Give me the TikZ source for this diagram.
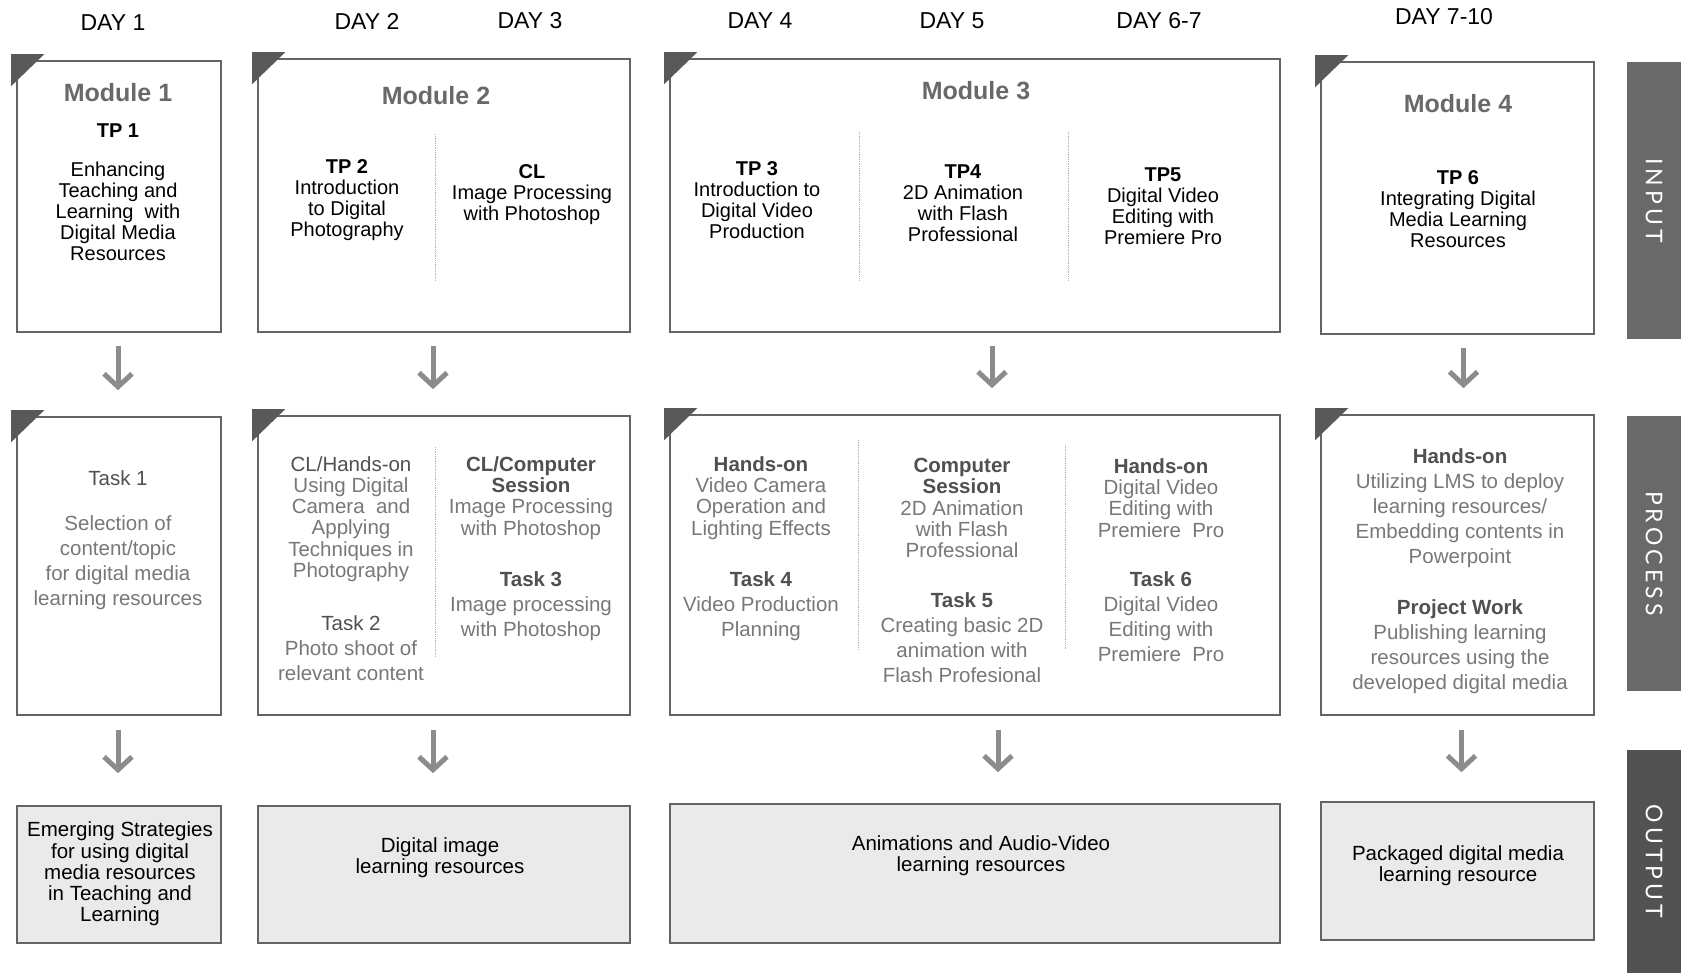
\documentclass[tikz,border=0pt]{standalone}
\usepackage{fontspec}
\setmainfont{Liberation Sans}
\newfontfamily\barrafont[LetterSpace=18]{Lato}
\usetikzlibrary{arrows.meta, positioning}
\definecolor{grisBorde}{RGB}{100,100,100}
\definecolor{grisOscuro}{RGB}{80,80,80}
\definecolor{grisClaro}{RGB}{120,120,120}
\definecolor{grisTitulo}{RGB}{105,105,105}
\definecolor{grisBarra}{RGB}{105,105,105}
\definecolor{grisSalida}{RGB}{234,234,234}
\newcommand{\encab}[1]{\textcolor{grisOscuro}{\textbf{#1}}}

\begin{document}
\begin{tikzpicture}[x=1pt, y=-1pt,
        caja/.style={rectangle, draw=grisBorde, line width=1.6pt, fill=white, inner sep=0pt},
        salida/.style={caja, fill=grisSalida},
        dia/.style={font=\fontsize{23}{26}\selectfont},
        titulo/.style={font=\fontsize{25}{28}\selectfont\bfseries, text=grisTitulo},
        entrada/.style={align=center, inner sep=0pt, font=\fontsize{20}{21}\selectfont},
        proc/.style={align=center, inner sep=0pt, text=grisClaro, font=\fontsize{20.5}{21.3}\selectfont},
        tarea/.style={proc, font=\fontsize{20.5}{25}\selectfont},
        res/.style={align=center, inner sep=0pt, font=\fontsize{20.5}{21.3}\selectfont},
        barra/.style={fill=grisBarra, rotate=-90, minimum height=54, inner sep=0pt, text=white, font=\barrafont\fontsize{23}{26}\selectfont},
        flecha/.style={draw=black!45, line width=5pt, -{Straight Barb[length=13pt, width=28pt]}},
        divisor/.style={draw=black!30, densely dotted, line width=0.8pt},
        esquina/.style={fill=black!65}]
    \useasboundingbox (0,0) rectangle (1681,973);

    % dias
    \node[dia] (d1) at (113,23) {DAY 1};
    \node[dia] (d2) at (367,21) {DAY 2};
    \node[dia] (d3) at (530,21) {DAY 3};
    \node[dia] (d4) at (760,21) {DAY 4};
    \node[dia] (d5) at (952,21) {DAY 5};
    \node[dia] (d67) at (1159,21) {DAY 6-7};
    \node[dia] (d710) at (1444,17) {DAY 7-10};

    % cajas
    \node[caja, minimum width=204, minimum height=271] (m1) at (119,196.5) {};
    \node[caja, minimum width=372, minimum height=273] (m2) at (444,195.5) {};
    \node[caja, minimum width=610, minimum height=273] (m3) at (975,195.5) {};
    \node[caja, minimum width=273, minimum height=272] (m4) at (1457.5,198) {};
    \node[caja, minimum width=204, minimum height=298] (p1) at (119,566) {};
    \node[caja, minimum width=372, minimum height=299] (p2) at (444,565.5) {};
    \node[caja, minimum width=610, minimum height=300] (p3) at (975,565) {};
    \node[caja, minimum width=273, minimum height=300] (p4) at (1457.5,565) {};
    \node[salida, minimum width=204, minimum height=137] (s1) at (119,874.5) {};
    \node[salida, minimum width=372, minimum height=137] (s2) at (444,874.5) {};
    \node[salida, minimum width=610, minimum height=139] (s3) at (975,873.5) {};
    \node[salida, minimum width=273, minimum height=138] (s4) at (1457.5,871) {};

    \fill[esquina] ([shift={(-5,-6)}]m1.north west) -- ++(33,0) -- ++(-33,32) -- cycle;
    \fill[esquina] ([shift={(-5,-6)}]m2.north west) -- ++(33,0) -- ++(-33,32) -- cycle;
    \fill[esquina] ([shift={(-5,-6)}]m3.north west) -- ++(33,0) -- ++(-33,32) -- cycle;
    \fill[esquina] ([shift={(-5,-6)}]m4.north west) -- ++(33,0) -- ++(-33,32) -- cycle;
    \fill[esquina] ([shift={(-5,-6)}]p1.north west) -- ++(33,0) -- ++(-33,32) -- cycle;
    \fill[esquina] ([shift={(-5,-6)}]p2.north west) -- ++(33,0) -- ++(-33,32) -- cycle;
    \fill[esquina] ([shift={(-5,-6)}]p3.north west) -- ++(33,0) -- ++(-33,32) -- cycle;
    \fill[esquina] ([shift={(-5,-6)}]p4.north west) -- ++(33,0) -- ++(-33,32) -- cycle;

    \draw[divisor] (435,134) -- (435,281);
    \draw[divisor] (859,132) -- (859,281);
    \draw[divisor] (1068,132) -- (1068,281);
    \draw[divisor] (435,447) -- (435,656);
    \draw[divisor] (858,440) -- (858,649);
    \draw[divisor] (1065,445) -- (1065,649);

    % entrada
    \node[titulo] (t1) at (118,93) {Module 1};
    \node[entrada, font=\fontsize{20}{21}\selectfont\bfseries] (tp1) at (118,131) {TP 1};
    \node[entrada] (e1) at (118,211) {Enhancing\\Teaching and\\Learning\ \ with\\Digital Media\\Resources};
    \node[titulo] (t2) at (436,96) {Module 2};
    \node[entrada] (e2) at (347,200) {\textbf{TP 2}\\Introduction\\to Digital\\Photography};
    \node[entrada] (e3) at (532,195) {\textbf{CL}\\Image Processing\\with Photoshop};
    \node[titulo] (t3) at (976,91) {Module 3};
    \node[entrada] (e4) at (757,200) {\textbf{TP 3}\\Introduction to\\Digital Video\\Production};
    \node[entrada] (e5) at (963,203) {\textbf{TP4}\\2D Animation\\with Flash\\Professional};
    \node[entrada] (e6) at (1163,206) {\textbf{TP5}\\Digital Video\\Editing with\\Premiere Pro};
    \node[titulo] (t4) at (1458,104) {Module 4};
    \node[entrada] (e7) at (1458,209) {\textbf{TP 6}\\Integrating Digital\\Media Learning\\Resources};

    % proceso
    \node[proc, text=grisOscuro] (q1) at (118,478) {Task 1};
    \node[tarea] (q1b) at (118,563) {Selection of\\content/topic\\for digital media\\learning resources};
    \node[proc] (q2) at (351,519) {\textcolor{grisOscuro}{CL/Hands-on}\\Using Digital\\Camera\ \ and\\Applying\\Techniques in\\Photography};
    \node[tarea] (q2b) at (351,648) {\textcolor{grisOscuro}{Task 2}\\Photo shoot of\\relevant content};
    \node[proc] (q3) at (531,498) {\encab{CL/Computer}\\\encab{Session}\\Image Processing\\with Photoshop};
    \node[tarea] (q3b) at (531,606) {\encab{Task 3}\\Image processing\\with Photoshop};
    \node[proc] (q4) at (761,498) {\encab{Hands-on}\\Video Camera\\Operation and\\Lighting Effects};
    \node[tarea] (q4b) at (761,606) {\encab{Task 4}\\Video Production\\Planning};
    \node[proc] (q5) at (962,508) {\encab{Computer}\\\encab{Session}\\2D Animation\\with Flash\\Professional};
    \node[tarea] (q5b) at (962,638) {\encab{Task 5}\\Creating basic 2D\\animation with\\Flash Profesional};
    \node[proc] (q6) at (1161,498) {\encab{Hands-on}\\Digital Video\\Editing with\\Premiere\ \ Pro};
    \node[tarea] (q6b) at (1161,617) {\encab{Task 6}\\Digital Video\\Editing with\\Premiere\ \ Pro};
    \node[tarea] (q7) at (1460,508) {\encab{Hands-on}\\Utilizing LMS to deploy\\learning resources/\\Embedding contents in\\Powerpoint};
    \node[tarea] (q7b) at (1460,647) {\encab{Project Work}\\Publishing learning\\resources using the\\developed digital media};

    % salida
    \node[res] (r1) at (120,874) {Emerging Strategies\\for using digital\\media resources\\in Teaching and\\Learning};
    \node[res] (r2) at (440,858) {Digital image\\learning resources};
    \node[res] (r3) at (981,856) {Animations and Audio-Video\\learning resources};
    \node[res] (r4) at (1458,866) {Packaged digital media\\learning resource};

    % barras
    \node[barra, minimum width=277] (bin) at (1654,200.5) {INPUT};
    \node[barra, minimum width=275] (bpr) at (1654,553.5) {PROCESS};
    \node[barra, minimum width=223, fill=black!68] (bout) at (1654,861.5) {OUTPUT};

    % flechas
    \draw[flecha, shorten <=13, shorten >=26] ([xshift=-1]m1.south) -- ([xshift=-1]p1.north);
    \draw[flecha, shorten <=13, shorten >=26] ([xshift=-11]m2.south) -- ([xshift=-11]p2.north);
    \draw[flecha, shorten <=13, shorten >=26] ([xshift=17]m3.south) -- ([xshift=17]p3.north);
    \draw[flecha, shorten <=13, shorten >=26] ([xshift=6]m4.south) -- ([xshift=6]p4.north);
    \draw[flecha, shorten <=14, shorten >=32] ([xshift=-1]p1.south) -- ([xshift=-1]s1.north);
    \draw[flecha, shorten <=14, shorten >=32] ([xshift=-11]p2.south) -- ([xshift=-11]s2.north);
    \draw[flecha, shorten <=14, shorten >=31] ([xshift=23]p3.south) -- ([xshift=23]s3.north);
    \draw[flecha, shorten <=14, shorten >=29] ([xshift=4]p4.south) -- ([xshift=4]s4.north);
\end{tikzpicture}
\end{document}
